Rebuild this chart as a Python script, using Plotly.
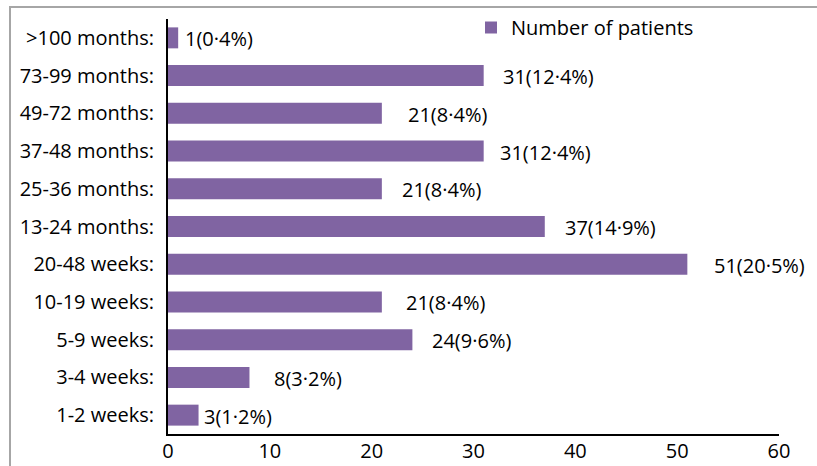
import plotly.graph_objects as go

# Data (bottom to top)
categories = ["1-2 weeks:", "3-4 weeks:", "5-9 weeks:", "10-19 weeks:", "20-48 weeks:",
              "13-24 months:", "25-36 months:", "37-48 months:", "49-72 months:",
              "73-99 months:", ">100 months:"]
patients = [3, 8, 24, 21, 51, 37, 21, 31, 21, 31, 1]
percent = ["1·2", "3·2", "9·6", "8·4", "20·5", "14·9", "8·4", "12·4", "8·4", "12·4", "0·4"]
x_ticks = [0, 10, 20, 30, 40, 50, 60]

# Style: label gap from bar end (pixels), as in the original layout
label_gap_px = [3, 23, 18, 22, 25, 18, 18, 14, 24, 17, 5]

BAR = "#8064A2"
FONT = "Open Sans"
FS = 20

W, H = 817, 466
ML, MR, MT, MB = 168, 38, 19, 32
pw = W - ML - MR
ph = H - MT - MB

fig = go.Figure()
fig.add_trace(go.Bar(
    y=categories, x=patients, orientation="h",
    marker=dict(color=BAR, line=dict(width=0)),
    name="Number of patients", showlegend=True,
))

for c, v, p, g in zip(categories, patients, percent, label_gap_px):
    fig.add_annotation(x=v, y=c, xref="x", yref="y", text=f"{v}({p}%)",
                       showarrow=False, xanchor="left", yanchor="middle",
                       xshift=g, yshift=-1, font=dict(family=FONT, size=FS, color="black"))

# outer frame (partially cropped in the original)
def px2paper_x(px):
    return (px - ML) / pw

def px2paper_y(py):
    return (H - MB - py) / ph

fig.add_shape(type="rect", xref="paper", yref="paper",
              x0=px2paper_x(10), x1=px2paper_x(840), y0=px2paper_y(490), y1=px2paper_y(7),
              line=dict(color="#A6A6A6", width=2), fillcolor="rgba(0,0,0,0)", layer="below")

fig.update_layout(
    width=W, height=H,
    margin=dict(l=ML, r=MR, t=MT, b=MB, pad=0, autoexpand=False),
    paper_bgcolor="white", plot_bgcolor="white",
    bargap=0.444,
    font=dict(family=FONT, size=FS, color="black"),
    xaxis=dict(range=[0, 60], tickvals=x_ticks, showgrid=False, zeroline=False,
               showline=True, linecolor="black", linewidth=2, ticks="", automargin=False,
               ticklabelstandoff=-2, tickfont=dict(family=FONT, size=FS, color="black")),
    yaxis=dict(categoryorder="array", categoryarray=categories, showgrid=False,
               zeroline=False, showline=True, linecolor="black", linewidth=2, ticks="",
               automargin=False,
               ticklabelstandoff=8, tickfont=dict(family=FONT, size=FS, color="black")),
    legend=dict(x=px2paper_x(471), y=px2paper_y(8), xanchor="left", yanchor="top",
                bgcolor="rgba(0,0,0,0)", font=dict(family=FONT, size=FS, color="black"),
                itemwidth=30),
)

fig.write_html("out.html")
